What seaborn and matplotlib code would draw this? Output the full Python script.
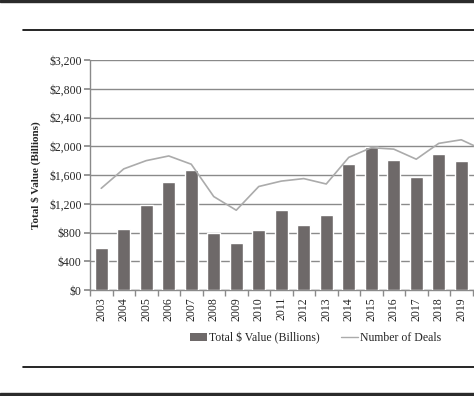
import numpy as np
import pandas as pd
import seaborn as sns
import matplotlib.pyplot as plt
from matplotlib.lines import Line2D
from matplotlib.patches import Rectangle, Patch
from matplotlib.ticker import FuncFormatter

# Data (2020 is mostly cut off at the right edge)
years = ["2003", "2004", "2005", "2006", "2007", "2008", "2009", "2010", "2011",
         "2012", "2013", "2014", "2015", "2016", "2017", "2018", "2019", "2020"]
total_value = [590, 850, 1180, 1500, 1665, 790, 650, 840, 1120,
               910, 1040, 1760, 1985, 1810, 1575, 1890, 1795, 1750]
num_deals = [28300, 33700, 36000, 37300, 35000, 26000, 22200, 28800, 30300,
             31000, 29500, 36900, 39600, 39200, 36400, 40800, 41800, 38900]
# only the labels that fit inside the cropped page are shown
shown_labels = years[:17] + [""]

df = pd.DataFrame({"Year": years, "Value": total_value, "Deals": num_deals})

sns.set_theme(style="white")
plt.rcParams["font.family"] = ["Liberation Serif", "DejaVu Serif"]

bar_color = "#6e6969"
line_color = "#ababab"
grid_color = "#8a8a8a"

fig = plt.figure(figsize=(4.74, 3.96), dpi=100)
ax = fig.add_axes([90 / 474, 106 / 396, 405 / 474, 230 / 396])

sns.barplot(data=df, x="Year", y="Value", color=bar_color, saturation=1,
            width=0.58, ax=ax, zorder=3)
ax.set_xlim(-0.5, len(years) - 0.5)
ax.set_ylim(0, 3200)
ax.set_yticks(np.arange(0, 3201, 400))
ax.yaxis.set_major_formatter(FuncFormatter(lambda v, p: f"${v:,.0f}"))
ax.grid(axis="y", color=grid_color, linewidth=1)
ax.set_axisbelow(True)

for s in ["top", "right"]:
    ax.spines[s].set_visible(False)
for s in ["left", "bottom"]:
    ax.spines[s].set_color(grid_color)
    ax.spines[s].set_linewidth(1)

ax.set_xlabel("")
ax.set_ylabel("Total $ Value (Billions)", fontsize=8, fontweight="bold", labelpad=6)
ax.set_xticks(np.arange(len(years)))
ax.set_xticklabels(shown_labels)
ax.tick_params(axis="x", which="major", length=0, labelsize=8.5, rotation=90, pad=5)
ax.set_xticks(np.arange(-0.5, len(years), 1), minor=True)
ax.tick_params(axis="x", which="minor", length=4, color=grid_color, direction="out",
               bottom=True)
ax.tick_params(axis="y", length=4, color=grid_color, labelsize=8.5, left=True, pad=2)

ax2 = ax.twinx()
sns.lineplot(x=np.arange(len(years)), y=df["Deals"], color=line_color,
             linewidth=1.2, ax=ax2)
ax2.set_ylim(0, 64000)
ax2.set_yticks([])
ax2.set_ylabel("")
for s in ax2.spines.values():
    s.set_visible(False)

handles = [Patch(facecolor=bar_color, edgecolor="none"),
           Line2D([0], [0], color=line_color, linewidth=1)]
fig.legend(handles, ["Total $ Value (Billions)", "Number of Deals"],
           loc="center", bbox_to_anchor=(0.666, 0.147), ncol=2, frameon=False,
           fontsize=8.5, handlelength=1.4, handletextpad=0.2, columnspacing=1.8)

# page rules and dark bands from the source document
fig.add_artist(Line2D([23 / 474, 1], [1 - 30 / 396, 1 - 30 / 396],
                      color="black", linewidth=1.2))
fig.add_artist(Line2D([23 / 474, 1], [1 - 367 / 396, 1 - 367 / 396],
                      color="black", linewidth=1.2))
fig.patches.append(Rectangle((0, 1 - 2 / 396), 1, 2 / 396, transform=fig.transFigure,
                             color="#2b2b2b", zorder=0))
fig.patches.append(Rectangle((0, 0), 1, 3 / 396, transform=fig.transFigure,
                             color="#2b2b2b", zorder=0))

fig.savefig("out.png", dpi=100)
